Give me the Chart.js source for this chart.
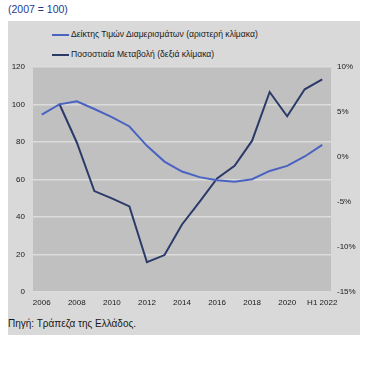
<!DOCTYPE html>
<html>
<head>
<meta charset="utf-8">
<script src="https://cdn.jsdelivr.net/npm/chart.js@4.4.0/dist/chart.umd.min.js"></script>
<style>
  html, body { margin: 0; padding: 0; background: #fff; }
  body { width: 377px; height: 368px; position: relative; overflow: hidden; font-family: "Liberation Sans", Arial, sans-serif; }
  #note { position: absolute; left: 8px; top: 3px; font-size: 10.5px; color: #1f3a8f; }
  #box { position: absolute; left: 8px; top: 21px; width: 352px; height: 314px; background: #d9d9d9; overflow: hidden; }
  #below { position: absolute; left: 0; top: 335px; width: 377px; height: 33px; background: #fff; z-index: 5; }
  .leg { position: absolute; left: 44px; font-size: 8.6px; color: #1a1a1a; white-space: nowrap; }
  .leg span { display: inline-block; width: 17px; height: 2px; vertical-align: middle; margin-right: 2px; }
  #wrap { position: absolute; left: 0; top: 33px; width: 352px; height: 258px; }
  #chart { display: block; }
  #src { position: absolute; left: 0; top: 297px; font-size: 10px; color: #1a1a1a; }
</style>
</head>
<body>
<div id="note">(2007 = 100)</div>
<div id="box">
  <div class="leg" style="top:8px"><span style="background:#4a63c2"></span>Δείκτης Τιμών Διαμερισμάτων (αριστερή κλίμακα)</div>
  <div class="leg" style="top:28px"><span style="background:#2c3a68"></span>Ποσοστιαία Μεταβολή (δεξιά κλίμακα)</div>
  <div id="wrap"><canvas id="chart" width="352" height="258"></canvas></div>
  <div id="src">Πηγή: Τράπεζα της Ελλάδος.</div>
</div>
<div id="below"></div>
<script>
// data
const years = ["2006","2007","2008","2009","2010","2011","2012","2013","2014","2015","2016","2017","2018","2019","2020","2021","H1 2022"];
const priceIndex = [94.5, 100, 101.6, 97.5, 93.2, 88.2, 77.9, 69.5, 64.2, 61.2, 59.6, 58.8, 60.1, 64.5, 67.2, 72.2, 78.4];
const pctChange = [null, 5.9, 1.6, -3.8, -4.6, -5.5, -11.7, -10.9, -7.5, -5.0, -2.4, -1.0, 1.8, 7.2, 4.5, 7.5, 8.6];
const leftTicks = [0, 20, 40, 60, 80, 100, 120];
const rightTicks = [-15, -10, -5, 0, 5, 10];

const plotBg = {
  id: 'plotBg',
  beforeDraw(c) {
    const a = c.chartArea, ctx = c.ctx;
    ctx.save();
    ctx.fillStyle = '#c0c0c0';
    ctx.fillRect(a.left, a.top, a.right - a.left, a.bottom - a.top);
    ctx.restore();
  }
};

const tickFont = { family: '"Liberation Sans", Arial, sans-serif', size: 8 };

new Chart(document.getElementById('chart'), {
  type: 'line',
  data: {
    labels: years,
    datasets: [
      { label: 'Δείκτης Τιμών Διαμερισμάτων (αριστερή κλίμακα)', data: priceIndex, yAxisID: 'y',
        borderColor: '#4a63c2', borderWidth: 2, pointRadius: 0, tension: 0 },
      { label: 'Ποσοστιαία Μεταβολή (δεξιά κλίμακα)', data: pctChange, yAxisID: 'y1',
        borderColor: '#2c3a68', borderWidth: 2, pointRadius: 0, tension: 0 }
    ]
  },
  options: {
    responsive: false,
    animation: false,
    layout: { padding: { top: 5, bottom: 0, left: 0, right: 0 } },
    plugins: { legend: { display: false }, tooltip: { enabled: false } },
    scales: {
      x: {
        offset: true,
        grid: { display: false, drawTicks: false },
        border: { display: false },
        ticks: { autoSkip: false, maxRotation: 0, padding: 6, color: '#1a1a1a', font: tickFont,
          callback: (v, i) => i % 2 === 0 ? years[i] : '' },
        afterFit: s => { s.height = 20; }
      },
      y: {
        position: 'left', min: 0, max: 120,
        afterBuildTicks: s => { s.ticks = leftTicks.map(v => ({ value: v })); },
        grid: { color: '#dcdcdc', lineWidth: 1.5, drawTicks: false },
        border: { display: false },
        ticks: { padding: 8, color: '#1a1a1a', font: tickFont },
        afterFit: s => { s.width = 25; }
      },
      y1: {
        position: 'right', min: -15, max: 10,
        afterBuildTicks: s => { s.ticks = rightTicks.map(v => ({ value: v })); },
        grid: { display: false, drawTicks: false },
        border: { display: false },
        ticks: { padding: 6, color: '#1a1a1a', font: tickFont, callback: v => v + '%' },
        afterFit: s => { s.width = 29; }
      }
    }
  },
  plugins: [plotBg]
});
</script>
</body>
</html>
